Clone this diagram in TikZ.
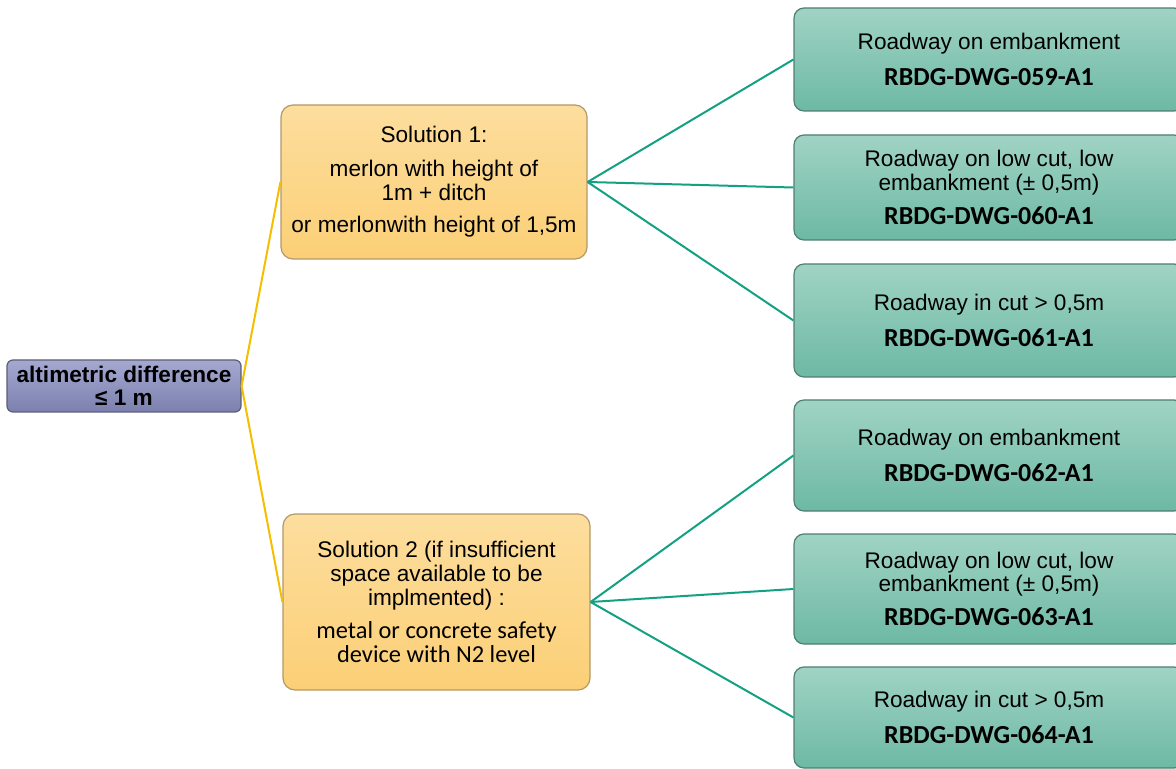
\documentclass[tikz,border=0pt]{standalone}
\usepackage{fontspec}
\setmainfont{Liberation Sans}
\newfontfamily\calfont{Carlito}
\definecolor{rootT}{HTML}{A5A9D1}
\definecolor{rootB}{HTML}{7B80AE}
\definecolor{rootD}{HTML}{5B5E78}
\definecolor{solT}{HTML}{FDDE9E}
\definecolor{solB}{HTML}{FBCF76}
\definecolor{solD}{HTML}{B39869}
\definecolor{grnT}{HTML}{A0D3C3}
\definecolor{grnB}{HTML}{6DB9A4}
\definecolor{grnD}{HTML}{4F7E72}
\definecolor{yline}{HTML}{F5BF00}
\definecolor{gline}{HTML}{14A083}
\tikzset{
  rootbox/.style={draw=rootD, line width=0.6pt, rounded corners=3pt, top color=rootT, bottom color=rootB,
    minimum width=117pt, minimum height=26pt, inner sep=0pt, align=center,
    font=\bfseries\fontsize{11.3}{11.6}\selectfont},
  solbox/.style={draw=solD, line width=0.6pt, rounded corners=6pt, top color=solT, bottom color=solB,
    inner sep=0pt, align=center, font=\fontsize{11.3}{11.8}\selectfont},
  grnbox/.style={draw=grnD, line width=0.6pt, rounded corners=5pt, top color=grnT, bottom color=grnB,
    minimum width=195pt, inner sep=0pt, align=center, font=\fontsize{11.3}{11.8}\selectfont},
  yconn/.style={draw=yline, line width=1pt},
  gconn/.style={draw=gline, line width=1pt},
}
\newcommand{\codetxt}[1]{{\calfont\bfseries\fontsize{13}{14}\selectfont #1}}
\begin{document}
\begin{tikzpicture}[x=0.5pt,y=-0.5pt]
\useasboundingbox (0,0) rectangle (1176,769);
\node[rootbox] (root) at (124,386) {altimetric difference\\≤ 1 m};
\node[solbox, minimum width=153pt, minimum height=77pt] (s1) at (434,182)
  {Solution 1:\\[5.2pt]merlon with height of\\1m + ditch\\[4.5pt]or merlonwith height of 1,5m};
\node[solbox, minimum width=153.5pt, minimum height=88pt] (s2) at (436.5,602)
  {Solution 2 (if insufficient\\space available to be\\implmented) :\\[5pt]
   {\calfont\fontsize{12.2}{12.5}\selectfont metal or concrete safety}\\
   {\calfont\fontsize{12.2}{12.5}\selectfont device with N2 level}};
\node[grnbox, minimum height=51.5pt] (g1) at (989,59.5)
  {Roadway on embankment\\[6.2pt]\codetxt{RBDG-DWG-059-A1}};
\node[grnbox, minimum height=52.5pt] (g2) at (989,187.5)
  {Roadway on low cut, low\\embankment (± 0,5m)\\[5.2pt]\codetxt{RBDG-DWG-060-A1}};
\node[grnbox, minimum height=56.5pt] (g3) at (989,320.5)
  {Roadway in cut > 0,5m\\[6.2pt]\codetxt{RBDG-DWG-061-A1}};
\node[grnbox, minimum height=55.5pt] (g4) at (989,455.5)
  {Roadway on embankment\\[6.2pt]\codetxt{RBDG-DWG-062-A1}};
\node[grnbox, minimum height=55pt] (g5) at (989,589)
  {Roadway on low cut, low\\embankment (± 0,5m)\\[5.2pt]\codetxt{RBDG-DWG-063-A1}};
\node[grnbox, minimum height=50.5pt] (g6) at (989,717.5)
  {Roadway in cut > 0,5m\\[6.2pt]\codetxt{RBDG-DWG-064-A1}};
\draw[yconn] (root.east) -- (s1.west);
\draw[yconn] (root.east) -- (s2.west);
\foreach \g in {g1,g2,g3} \draw[gconn] (s1.east) -- (\g.west);
\foreach \g in {g4,g5,g6} \draw[gconn] (s2.east) -- (\g.west);
\end{tikzpicture}
\end{document}
